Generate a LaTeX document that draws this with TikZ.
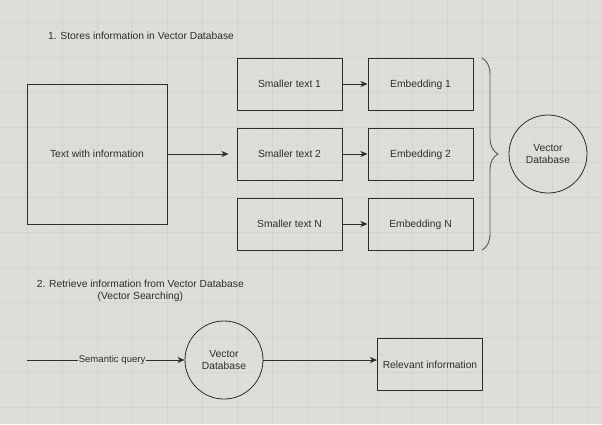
\documentclass[tikz,border=0pt]{standalone}
\usepackage{fontspec}
\setmainfont{Liberation Sans}
\usepackage{tikz}
\usetikzlibrary{arrows.meta,decorations.pathreplacing}
\definecolor{canvas}{RGB}{222,221,217}
\definecolor{minorline}{RGB}{218,217,213}
\definecolor{majorline}{RGB}{212,211,207}
\definecolor{ink}{RGB}{45,45,45}

\begin{document}
\begin{tikzpicture}[x=1pt,y=-1pt,>={Stealth[length=7pt,width=6pt,inset=2pt]},
                    line width=1pt,node distance=70pt,
                    font=\fontsize{10.3}{12}\selectfont]
  \tikzstyle{place}=[rectangle,draw=ink,text=ink,minimum width=105pt,minimum height=52pt,inner sep=0pt,text depth=0pt]
  \tikzstyle{store}=[circle,draw=ink,text=ink,minimum size=78pt,inner sep=0pt,align=center,line width=0.8pt]
  \tikzstyle{note}=[text=ink,align=center,inner sep=0pt]
  \tikzstyle{querylabel}=[fill=canvas,text=ink,inner xsep=1pt,inner ysep=0pt,font=\fontsize{9.6}{11}\selectfont]
  \tikzstyle{dbbrace}=[draw=ink!80,line width=0.9pt,decorate,decoration={brace,amplitude=16pt}]

  % canvas and grid
  \fill[canvas] (0,0) rectangle (602,424);
  \useasboundingbox (0,0) rectangle (602,424);
  \foreach \gx in {0,...,33} \draw[minorline,line width=0.6pt] ({10.2+17.5*\gx},0) -- ({10.2+17.5*\gx},424);
  \foreach \gy in {0,...,23} \draw[minorline,line width=0.6pt] (0,{4.8+17.5*\gy}) -- (602,{4.8+17.5*\gy});
  \foreach \gx in {0,...,16} \draw[majorline,line width=0.7pt] ({27.7+35*\gx},0) -- ({27.7+35*\gx},424);
  \foreach \gy in {0,...,11} \draw[majorline,line width=0.7pt] (0,{22.3+35*\gy}) -- (602,{22.3+35*\gy});

  % 1. storing
  \node[note] (H1) at (141,36) {1. Stores information in Vector Database};
  \node[place,minimum width=140pt,minimum height=140pt] (T) at (97,154) {Text with information};
  \node[place] (S2) at (289.5,154)          {Smaller text 2};
  \node[place] (S1) [above of=S2]           {Smaller text 1};
  \node[place] (SN) [below of=S2]           {Smaller text N};
  \node[place] (E1) [right of=S1,node distance=131pt] {Embedding 1};
  \node[place] (E2) [right of=S2,node distance=131pt] {Embedding 2};
  \node[place] (EN) [right of=SN,node distance=131pt] {Embedding N};
  \node[store] (V1) at (548,154)            {Vector\\Database};
  \coordinate (B1) at (482,58);
  \coordinate (B2) at (482,250);

  % 2. retrieving
  \node[note] (H2) at (140.3,290.5) {2. Retrieve information from Vector Database\\(Vector Searching)};
  \coordinate (Q) at (27,360);
  \node[store] (V2) at (224,360)            {Vector\\Database};
  \node[place] (R) at (430,364.5)           {Relevant information};

  \path[->,ink]
(T) edge      [shorten >=8pt]        (S2)
(S1) edge      []        (E1)
(S2) edge      []        (E2)
(SN) edge      []        (EN)
(Q) edge      []        node[querylabel,pos=0.54] {Semantic query} (V2)
(V2.east) edge      []        (V2.east -| R.west);
  \draw[dbbrace] (B1) -- (B2);
\end{tikzpicture}
\end{document}
